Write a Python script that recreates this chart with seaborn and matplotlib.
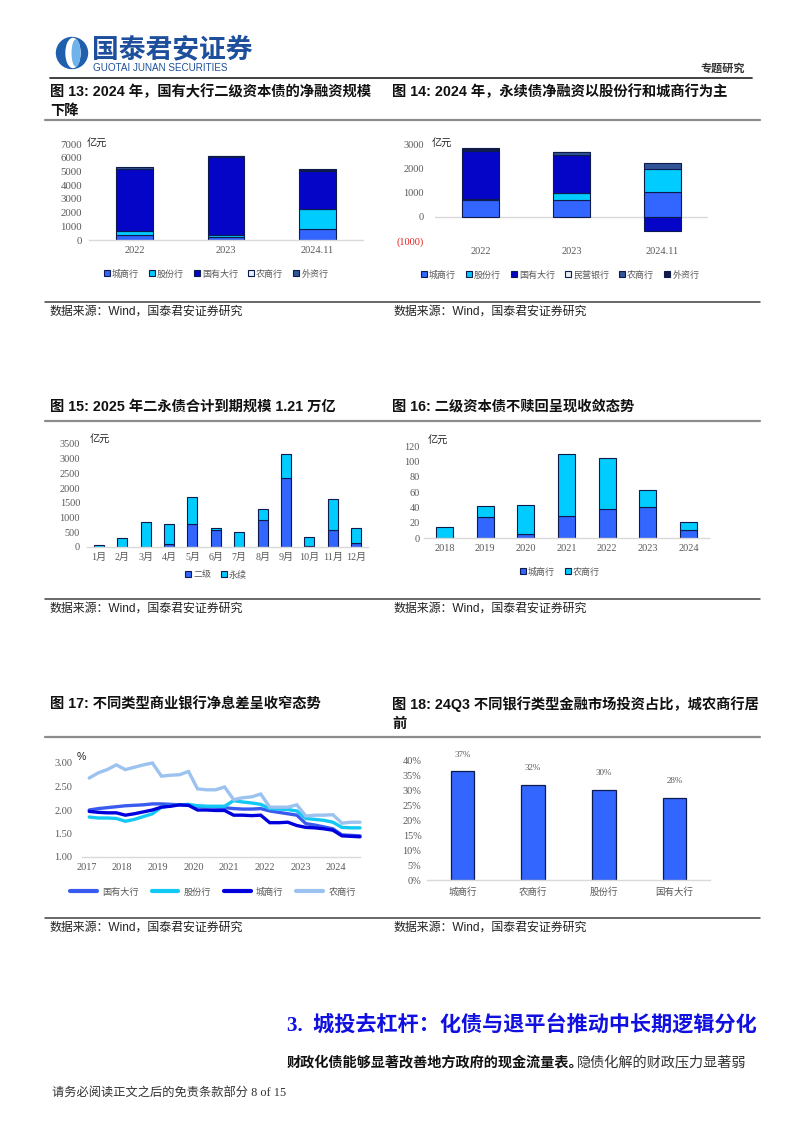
import numpy as np
import pandas as pd
import matplotlib
matplotlib.use('Agg')
import matplotlib.pyplot as plt
import seaborn as sns
from matplotlib.patches import Patch, Ellipse, Circle
from matplotlib.lines import Line2D

# ---------------- data ----------------
c13_years = ['2022', '2023', '2024.11']
c13_city = [400, 220, 800]
c13_joint = [230, 150, 1450]
c13_state = [4520, 5700, 2800]
c13_rural = [60, 20, 60]
c13_foreign = [90, 30, 70]
c13_names = ['城商行', '股份行', '国有大行', '农商行', '外资行']

c14_years = ['2022', '2023', '2024.11']
c14_city = [680, 690, 1010]
c14_joint = [70, 280, 950]
c14_state = [1960, 1570, -600]
c14_private = [0, 10, 0]
c14_rural = [30, 110, 240]
c14_foreign = [80, 20, 0]
c14_names = ['城商行', '股份行', '国有大行', '民营银行', '农商行', '外资行']

c15_months = ['1月', '2月', '3月', '4月', '5月', '6月', '7月', '8月', '9月', '10月', '11月', '12月']
c15_tier2 = [0, 0, 10, 115, 770, 590, 0, 920, 2330, 45, 580, 150]
c15_perp = [70, 300, 830, 660, 945, 40, 510, 365, 840, 285, 1055, 490]
c15_names = ['二级', '永续']

c16_years = ['2018', '2019', '2020', '2021', '2022', '2023', '2024']
c16_city = [0, 28, 5, 29, 38, 40, 10]
c16_rural = [14, 14, 38, 80, 67, 22, 11]
c16_names = ['城商行', '农商行']

c17_ticks = ['2017', '2018', '2019', '2020', '2021', '2022', '2023', '2024']
c17_state = [2.00, 2.03, 2.05, 2.07, 2.09, 2.10, 2.11, 2.13, 2.13, 2.12, 2.11, 2.10,
             2.08, 2.07, 2.06, 2.05, 2.03, 2.02, 2.02, 2.03, 1.98, 1.95, 1.92, 1.89,
             1.71, 1.68, 1.64, 1.60, 1.47, 1.46, 1.45]
c17_joint = [1.85, 1.83, 1.83, 1.82, 1.76, 1.80, 1.86, 1.92, 2.06, 2.09, 2.11, 2.12,
             2.09, 2.08, 2.08, 2.08, 2.20, 2.17, 2.15, 2.12, 2.03, 2.02, 2.01, 1.98,
             1.82, 1.80, 1.78, 1.74, 1.63, 1.62, 1.62]
c17_city = [1.97, 1.95, 1.94, 1.94, 1.89, 1.92, 1.96, 2.00, 2.06, 2.08, 2.11, 2.10,
            2.00, 2.00, 1.99, 1.99, 1.89, 1.89, 1.88, 1.89, 1.73, 1.73, 1.74, 1.67,
            1.63, 1.62, 1.60, 1.57, 1.45, 1.44, 1.43]
c17_rural = [2.68, 2.79, 2.86, 2.96, 2.86, 2.91, 2.96, 3.00, 2.72, 2.74, 2.75, 2.82,
             2.45, 2.43, 2.43, 2.49, 2.22, 2.26, 2.28, 2.34, 2.06, 2.06, 2.06, 2.11,
             1.87, 1.89, 1.89, 1.90, 1.72, 1.74, 1.74]
c17_names = ['国有大行', '股份行', '城商行', '农商行']

c18_banks = ['城商行', '农商行', '股份行', '国有大行']
c18_share = [0.366, 0.320, 0.304, 0.276]
c18_labels = ['37%', '32%', '30%', '28%']

# ---------------- style ----------------
sns.set_theme(style='white')
SERIF = ['Liberation Serif', 'Noto Sans CJK SC', 'DejaVu Sans']
SANS = ['Liberation Sans', 'Noto Sans CJK SC', 'DejaVu Sans']
plt.rcParams['font.family'] = SERIF
plt.rcParams['axes.unicode_minus'] = False

W, H = 802, 1133
fig = plt.figure(figsize=(W / 100, H / 100), dpi=100)
fig.patch.set_facecolor('white')

BLUE = '#3366FF'
CYAN = '#00CCFF'
DEEP = '#0505C8'
STEEL = '#2F5597'
NAVY = '#141A4A'
LIGHT = '#E6EEF8'
EDGE = '#0D1B4C'
TICKC = '#595959'
AXC = '#D9D9D9'


def rect(x0, y0, x1, y1):
    return [x0 / W, 1 - y1 / H, (x1 - x0) / W, (y1 - y0) / H]


def ftext(x, y, s, **kw):
    return fig.text(x / W, 1 - y / H, s, **kw)


def hline(y, x0, x1, color, lw):
    fig.add_artist(Line2D([x0 / W, x1 / W], [1 - y / H, 1 - y / H], color=color, lw=lw,
                          transform=fig.transFigure))


def style_ax(ax, ypad=4, xpad=4, bottom=True, size=7.4):
    for s in ['left', 'top', 'right']:
        ax.spines[s].set_visible(False)
    ax.spines['bottom'].set_visible(bottom)
    ax.spines['bottom'].set_color(AXC)
    ax.spines['bottom'].set_linewidth(1.0)
    ax.tick_params(axis='both', length=0, colors=TICKC, labelsize=size)
    ax.tick_params(axis='y', pad=ypad)
    ax.tick_params(axis='x', pad=xpad)
    ax.grid(False)
    ax.set_facecolor('none')
    ax.set_xlabel('')
    ax.set_ylabel('')


def stacked(ax, cats, series, colors, width):
    x = np.arange(len(cats))
    pos = np.zeros(len(cats))
    neg = np.zeros(len(cats))
    for vals, col in zip(series, colors):
        v = np.array(vals, dtype=float)
        bottom = np.where(v >= 0, pos, neg)
        m = v != 0
        ax.bar(x[m], v[m], width, bottom=bottom[m], color=col, edgecolor=EDGE, linewidth=0.8)
        pos += np.where(v > 0, v, 0)
        neg += np.where(v < 0, v, 0)
    ax.set_xticks(x)
    ax.set_xticklabels(cats)
    ax.set_xlim(-0.5, len(cats) - 0.5)


def patch_legend(names, colors, cx, cy, **kw):
    handles = [Patch(facecolor=c, edgecolor=EDGE, linewidth=0.8, label=n) for n, c in zip(names, colors)]
    leg = fig.legend(handles=handles, loc='center', bbox_to_anchor=(cx / W, 1 - cy / H),
                     ncol=len(names), frameon=False, handlelength=0.65,
                     handleheight=0.65, handletextpad=0.25, columnspacing=1.1,
                     prop={'family': ['Noto Sans CJK SC'], 'size': 6.5}, **kw)
    for t in leg.get_texts():
        t.set_color(TICKC)
    return leg


# ---------------- header ----------------
axl = fig.add_axes(rect(55, 36, 89, 70))
axl.set_xlim(0, 34)
axl.set_ylim(0, 34)
axl.set_aspect('equal')
axl.axis('off')
axl.add_patch(Circle((17, 17), 15.5, color='#1F5FAE'))
axl.add_patch(Ellipse((18, 17), 14, 29, color='white'))
axl.add_patch(Ellipse((21, 17), 7.5, 26, color='#6FB3EA'))

ftext(92, 50, '国泰君安证券', fontsize=19.3, fontweight='bold', color='#1D4F9C',
      family=['Noto Sans CJK SC'], va='center', ha='left')
ftext(93, 68, 'GUOTAI JUNAN SECURITIES', fontsize=7.1, color='#1D4F9C', family=SANS,
      va='center', ha='left')
ftext(745, 68, '专题研究', fontsize=8, fontweight='bold', color='#333333',
      family=['Noto Sans CJK SC'], va='center', ha='right')
hline(78, 50, 752, '#333333', 1.3)

# ---------------- titles / separators ----------------
TKW = dict(fontsize=10.3, fontweight='bold', color='#111111', family=SANS, va='center', ha='left')
ftext(50, 92, '图 13: 2024 年，国有大行二级资本债的净融资规模', **TKW)
ftext(50, 111, '下降', **TKW)
ftext(392, 92, '图 14: 2024 年，永续债净融资以股份行和城商行为主', **TKW)
hline(120, 45, 760, '#8C8C8C', 1.6)

ftext(50, 407, '图 15: 2025 年二永债合计到期规模 1.21 万亿', **TKW)
ftext(392, 407, '图 16: 二级资本债不赎回呈现收敛态势', **TKW)
hline(421, 45, 760, '#8C8C8C', 1.6)

ftext(50, 704, '图 17: 不同类型商业银行净息差呈收窄态势', **TKW)
ftext(392, 704, '图 18: 24Q3 不同银行类型金融市场投资占比，城农商行居', **TKW)
ftext(392, 724, '前', **TKW)
hline(737, 45, 760, '#8C8C8C', 1.6)

SKW = dict(fontsize=8.6, color='#222222', family=SANS, va='center', ha='left')
for ysrc in (312, 609, 928):
    hline(ysrc - 10, 45, 760, '#404040', 1.1)
    ftext(50, ysrc, '数据来源：Wind，国泰君安证券研究', **SKW)
    ftext(393, ysrc, '数据来源：Wind，国泰君安证券研究', **SKW)

UNITKW = dict(fontsize=7.3, color='#222222', family=['Noto Sans CJK SC'], va='center', ha='left')

# ---------------- chart 13 ----------------
ax13 = fig.add_axes(rect(89, 144, 363, 240))
stacked(ax13, c13_years, [c13_city, c13_joint, c13_state, c13_rural, c13_foreign],
        [BLUE, CYAN, DEEP, LIGHT, STEEL], 0.4)
ax13.set_ylim(0, 7000)
ax13.set_yticks(np.arange(0, 7001, 1000))
style_ax(ax13, ypad=5, size=7.8)
ax13.tick_params(axis='x', labelsize=7.4)
ftext(87, 143, '亿元', **UNITKW)
patch_legend(c13_names, [BLUE, CYAN, DEEP, LIGHT, STEEL], 216, 274)

# ---------------- chart 14 ----------------
ax14 = fig.add_axes(rect(435, 144, 708, 241))
stacked(ax14, c14_years, [c14_city, c14_joint, c14_state, c14_private, c14_rural, c14_foreign],
        [BLUE, CYAN, DEEP, LIGHT, STEEL, NAVY], 0.4)
ax14.set_ylim(-1000, 3000)
ax14.set_yticks([-1000, 0, 1000, 2000, 3000])
ax14.set_yticklabels(['(1000)', '0', '1000', '2000', '3000'])
style_ax(ax14, ypad=8, bottom=False)
ax14.axhline(0, color=AXC, lw=1.0, zorder=0.5)
ax14.get_yticklabels()[0].set_color('#E02020')
ftext(432, 143, '亿元', **UNITKW)
patch_legend(c14_names, [BLUE, CYAN, DEEP, LIGHT, STEEL, NAVY], 560, 275)

# ---------------- chart 15 ----------------
ax15 = fig.add_axes(rect(87, 444, 368, 547))
stacked(ax15, c15_months, [c15_tier2, c15_perp], [BLUE, CYAN], 0.43)
ax15.set_ylim(0, 3500)
ax15.set_yticks(np.arange(0, 3501, 500))
style_ax(ax15, ypad=5)
ax15.tick_params(axis='x', labelsize=7.2)
ftext(90, 439, '亿元', **UNITKW)
patch_legend(c15_names, [BLUE, CYAN], 216, 575)

# ---------------- chart 16 ----------------
ax16 = fig.add_axes(rect(424, 446, 709, 538))
stacked(ax16, c16_years, [c16_city, c16_rural], [BLUE, CYAN], 0.42)
ax16.set_ylim(0, 120)
ax16.set_yticks(np.arange(0, 121, 20))
style_ax(ax16, ypad=3)
ftext(428, 440, '亿元', **UNITKW)
patch_legend(c16_names, [BLUE, CYAN], 560, 572)

# ---------------- chart 17 ----------------
ax17 = fig.add_axes(rect(82, 763, 360, 857))
n17 = len(c17_state)
df17 = pd.DataFrame({
    'q': np.tile(np.arange(n17), 4),
    'v': c17_state + c17_joint + c17_city + c17_rural,
    'bank': np.repeat(c17_names, n17),
})
pal17 = {'国有大行': '#3A5BF0', '股份行': '#12C8F5', '城商行': '#0000DD', '农商行': '#9CC2F0'}
sns.lineplot(data=df17, x='q', y='v', hue='bank', palette=pal17, hue_order=c17_names,
             linewidth=2.4, legend=False, ax=ax17)
for ln in ax17.lines:
    ln.set_clip_on(False)
    ln.set_solid_joinstyle('miter')
ax17.set_xlim(-0.8, n17 - 1)
ax17.set_ylim(1.0, 3.0)
ax17.set_yticks([1.0, 1.5, 2.0, 2.5, 3.0])
ax17.set_yticklabels(['%.2f' % v for v in [1.0, 1.5, 2.0, 2.5, 3.0]])
ax17.set_xticks(np.arange(len(c17_ticks)) * 3.95 - 0.3)
ax17.set_xticklabels(c17_ticks)
style_ax(ax17, ypad=7)
ax17.tick_params(axis='x', length=2.5, direction='in', color=AXC, width=0.8)
ftext(77, 757, '%', fontsize=7.5, color='#222222', family=SANS, va='center', ha='left')
lh = [Line2D([0], [0], color=pal17[n], lw=3.0, label=n) for n in c17_names]
leg17 = fig.legend(handles=lh, loc='center', bbox_to_anchor=(213 / W, 1 - 892 / H), ncol=4,
                   frameon=False, handlelength=2.9, handletextpad=0.6, columnspacing=1.4,
                   prop={'family': ['Noto Sans CJK SC'], 'size': 6.6})
for t in leg17.get_texts():
    t.set_color(TICKC)

# ---------------- chart 18 ----------------
ax18 = fig.add_axes(rect(427, 761, 710, 880))
df18 = pd.DataFrame({'bank': c18_banks, 'share': c18_share})
sns.barplot(data=df18, x='bank', y='share', color=BLUE, saturation=1, edgecolor=EDGE,
            linewidth=0.9, width=0.33, ax=ax18)
ax18.set_xlim(-0.5, 3.5)
ax18.set_ylim(0, 0.40)
ax18.set_yticks(np.arange(0, 0.401, 0.05))
ax18.set_yticklabels(['%d%%' % round(v * 100) for v in np.arange(0, 0.401, 0.05)])
style_ax(ax18, ypad=4, xpad=5)
ax18.tick_params(axis='x', labelsize=6.8)
for lab in ax18.get_xticklabels():
    lab.set_family(['Noto Sans CJK SC'])
for i, (v, s) in enumerate(zip(c18_share, c18_labels)):
    ax18.annotate(s, (i, v), xytext=(0, 9), textcoords='offset points', ha='center',
                  va='bottom', fontsize=6.5, color=TICKC, annotation_clip=False)

# ---------------- body text ----------------
ftext(287, 1025, '3.  城投去杠杆：化债与退平台推动中长期逻辑分化', fontsize=15.2, fontweight='bold',
      color='#1010E0', family=SERIF, va='center', ha='left')
t1 = ftext(287, 1062, '财政化债能够显著改善地方政府的现金流量表。', fontsize=10.2, fontweight='bold',
           color='#111111', family=['Noto Sans CJK SC'], va='center', ha='left')
fig.canvas.draw()
bb = t1.get_window_extent(fig.canvas.get_renderer())
x_end = bb.x1 / fig.dpi * 100
ftext(x_end - 7, 1062, '隐债化解的财政压力显著弱', fontsize=10.2, color='#333333',
      family=['Noto Sans CJK SC'], va='center', ha='left')
ftext(52, 1093, '请务必阅读正文之后的免责条款部分 8 of 15', fontsize=8.8, color='#333333',
      family=SERIF, va='center', ha='left')

fig.savefig('out.png', dpi=100, facecolor='white')
